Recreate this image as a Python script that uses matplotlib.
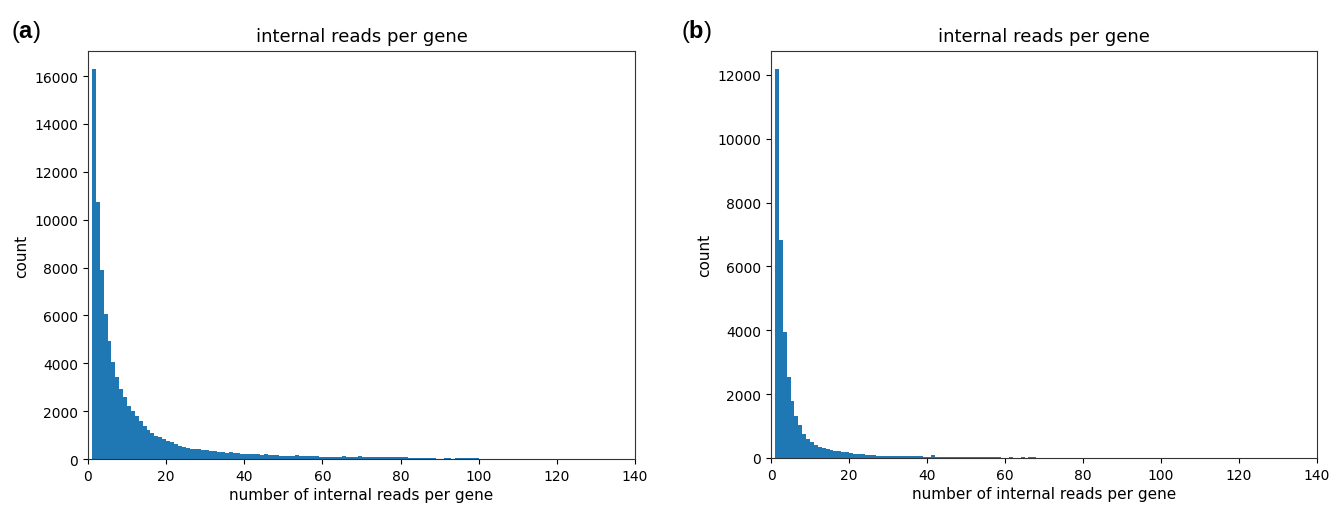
import numpy as np
import matplotlib
matplotlib.use("Agg")
from matplotlib import pyplot as plt

# counts per integer bin
counts_a = [16300, 10750, 7900, 6050, 4950, 4060, 3420, 2920, 2590, 2200,
            1990, 1790, 1580, 1400, 1230, 1090, 980, 910, 840, 740,
            700, 610, 560, 520, 470, 430, 410, 420, 390, 360,
            340, 320, 300, 290, 270, 310, 250, 240, 230, 215,
            205, 200, 190, 180, 215, 165, 160, 150, 145, 140,
            135, 130, 155, 120, 115, 110, 108, 105, 100, 98,
            95, 92, 90, 88, 115, 85, 83, 82, 110, 80,
            78, 77, 76, 75, 74, 72, 70, 68, 66, 65,
            64, 62, 60, 58, 56, 55, 54, 52, 0, 0,
            45, 45, 0, 44, 42, 40, 40, 38, 36]
counts_b = [12190, 6830, 3950, 2530, 1800, 1330, 1020, 755, 600, 515,
            410, 340, 305, 280, 260, 230, 210, 190, 175, 160,
            135, 115, 110, 105, 100, 80, 75, 72, 60, 58,
            55, 55, 52, 52, 50, 50, 48, 48, 45, 44,
            100, 42, 40, 40, 40, 38, 38, 37, 36, 36,
            35, 34, 34, 33, 32, 32, 31, 30, 0, 0,
            30, 0, 0, 30, 0, 30, 30]

edges_a = np.arange(1, len(counts_a) + 2)
edges_b = np.arange(1, len(counts_b) + 2)

plt.rcParams['mathtext.fontset'] = 'custom'
plt.rcParams['mathtext.rm'] = 'Liberation Sans'
plt.rcParams['mathtext.bf'] = 'Liberation Sans:bold'

fig = plt.figure(figsize=(13.33, 5.06), dpi=100)
ax_a = fig.add_axes([0.066, 0.0909, 0.4104, 0.8063])
ax_b = fig.add_axes([0.5784, 0.0929, 0.4096, 0.8043])

panels = [(ax_a, counts_a, edges_a, 16000, 'a', 0.008),
          (ax_b, counts_b, edges_b, 12000, 'b', 0.511)]

for ax, counts, edges, ytop, tag, xtag in panels:
    ax.hist(edges[:-1], bins=edges, weights=counts, color='#1f77b4')
    ax.set_xlim(0, 140)
    ax.set_yticks(np.arange(0, ytop + 1, 2000))
    ax.set_title("internal reads per gene", fontsize=13, pad=7)
    ax.set_xlabel("number of internal reads per gene", fontsize=11, labelpad=3)
    ax.set_ylabel("count", fontsize=11)
    ax.tick_params(labelsize=10)
    for sp in ax.spines.values():
        sp.set_color('#333333')
    fig.text(xtag, 0.925, "(" + r"$\mathbf{" + tag + "}$" + ")",
             fontsize=17, family='Liberation Sans')

ax_a.set_ylim(0, 16300 * 1.046)
ax_b.set_ylim(0, 12190 * 1.046)

fig.savefig("out.png", dpi=100)
